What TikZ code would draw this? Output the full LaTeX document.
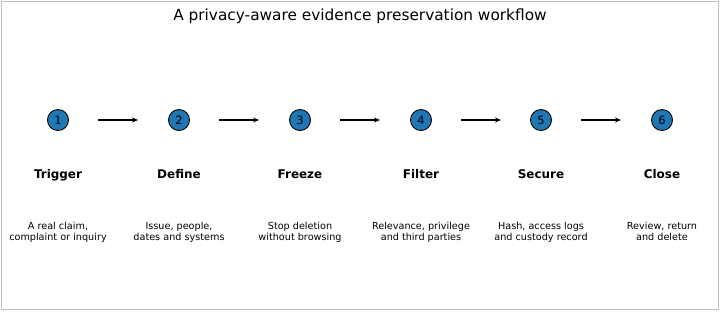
\documentclass[tikz,border=0pt]{standalone}
\usepackage{fontspec}
\setmainfont{DejaVu Sans}
\usetikzlibrary{arrows.meta}
\definecolor{mplblue}{HTML}{1F77B4}
\begin{document}
\begin{tikzpicture}[x=1bp,y=-1bp,
  stepcircle/.style={circle,draw=black,fill=mplblue,line width=0.9bp,minimum size=21bp,inner sep=0pt,font=\fontsize{11.5}{13}\selectfont},
  steptitle/.style={anchor=base,font=\fontsize{12}{14}\selectfont\bfseries},
  stepdesc/.style={anchor=base,font=\fontsize{9.7}{11}\selectfont,align=center},
  flow/.style={-{Stealth[length=6bp,width=5bp]},line width=1.1bp}]
\useasboundingbox (0,0) rectangle (720,311);
\draw[gray!50,line width=0.8bp] (1.5,1.5) rectangle (718.5,309.5);
\node[anchor=base,font=\fontsize{15.4}{18}\selectfont] (title) at (360,20.5) {A privacy-aware evidence preservation workflow};
\foreach \i/\x/\t/\d in {1/58/Trigger/{A real claim,\\complaint or inquiry},
  2/179/Define/{Issue, people,\\dates and systems},
  3/300/Freeze/{Stop deletion\\without browsing},
  4/421/Filter/{Relevance, privilege\\and third parties},
  5/541/Secure/{Hash, access logs\\and custody record},
  6/662/Close/{Review, return\\and delete}}{
  \node[stepcircle] (c\i) at (\x,120) {\i};
  \node[steptitle] (t\i) at (\x,178) {\t};
  \node[stepdesc] (d\i) at (\x,240) {\d};
  \coordinate (s\i) at (\x+40,120);
  \coordinate (e\i) at (\x+80,120);
}
\foreach \i in {1,...,5}{
  \draw[flow] (s\i) -- (e\i);
}
\end{tikzpicture}
\end{document}
